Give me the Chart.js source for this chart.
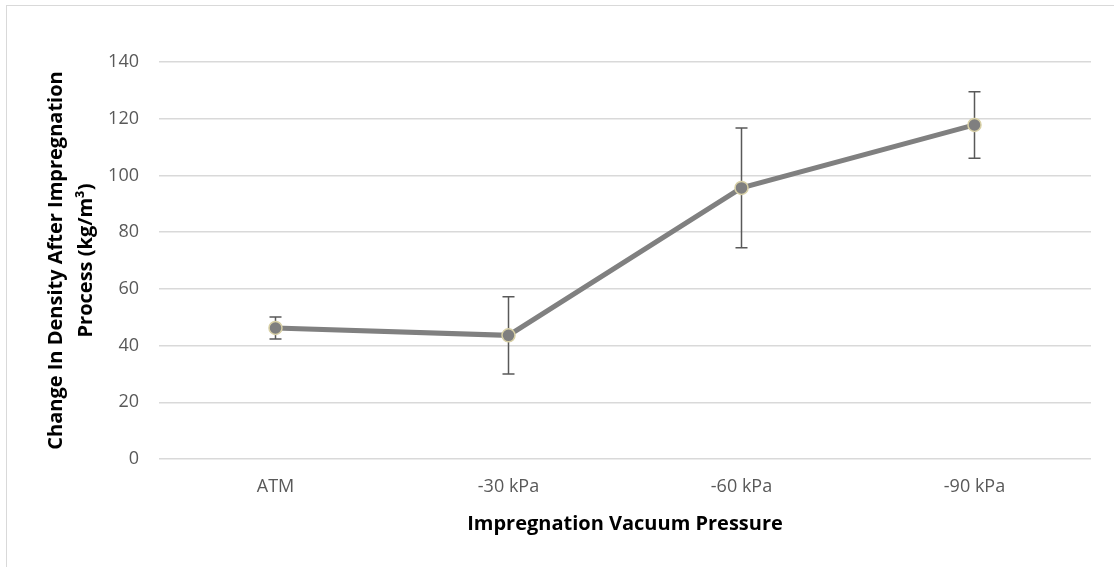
<!DOCTYPE html>
<html>
<head>
<meta charset="utf-8">
<script src="https://cdn.jsdelivr.net/npm/chart.js@4"></script>
<style>
  html, body { margin: 0; padding: 0; background: #fff; overflow: hidden; }
  #wrap { position: relative; width: 1114px; height: 567px; }
  #frame { position: absolute; left: 6px; top: 5px; width: 1200px; height: 700px; border: 1px solid #d9d9d9; pointer-events: none; }
</style>
</head>
<body>
<div id="wrap">
  <canvas id="densityChart" width="1114" height="567"></canvas>
  <div id="frame"></div>
</div>
<script>
// Данные
const categories = ['ATM', '-30 kPa', '-60 kPa', '-90 kPa'];
const densityChange = [46.2, 43.6, 95.6, 117.8];
const errorBars = [3.9, 13.6, 21.1, 11.7];
const yTicks = [0, 20, 40, 60, 80, 100, 120, 140];

// Планки погрешностей рисуем до линии, чтобы маркеры были сверху
const errorBarPlugin = {
    id: 'errorBars',
    beforeDatasetsDraw(chart) {
        const ctx = chart.ctx;
        const x = chart.scales.x;
        const y = chart.scales.y;
        ctx.save();
        ctx.strokeStyle = '#595959';
        ctx.lineWidth = 1.5;
        densityChange.forEach((v, i) => {
            const px = x.getPixelForValue(i);
            const top = y.getPixelForValue(v + errorBars[i]);
            const bot = y.getPixelForValue(v - errorBars[i]);
            ctx.beginPath();
            ctx.moveTo(px, top);
            ctx.lineTo(px, bot);
            ctx.moveTo(px - 6, top);
            ctx.lineTo(px + 6, top);
            ctx.moveTo(px - 6, bot);
            ctx.lineTo(px + 6, bot);
            ctx.stroke();
        });
        ctx.restore();
    }
};

const ctx = document.getElementById('densityChart').getContext('2d');
new Chart(ctx, {
    type: 'line',
    data: {
        labels: categories,
        datasets: [{
            data: densityChange,
            borderColor: '#808080',
            borderWidth: 5,
            pointBackgroundColor: '#7f7f7f',
            pointBorderColor: '#d8d0a6',
            pointBorderWidth: 1.5,
            pointRadius: 6.5,
            tension: 0
        }]
    },
    options: {
        responsive: false,
        animation: false,
        layout: { padding: { top: 62, right: 23, left: 0, bottom: 0 } },
        plugins: {
            legend: { display: false },
            tooltip: { enabled: false }
        },
        scales: {
            x: {
                offset: true,
                grid: { display: false, drawTicks: false },
                border: { display: false },
                ticks: {
                    color: '#595959',
                    padding: 17,
                    font: { family: 'Open Sans', size: 18 }
                },
                title: {
                    display: true,
                    text: 'Impregnation Vacuum Pressure',
                    color: '#000',
                    font: { family: 'Open Sans', size: 20, weight: 'bold' },
                    padding: { top: 0, bottom: 31 }
                },
                afterFit(scale) { scale.height = 108; }
            },
            y: {
                min: 0,
                max: 140,
                afterBuildTicks(scale) {
                    scale.ticks = yTicks.map(v => ({ value: v }));
                },
                grid: { color: '#d9d9d9', lineWidth: 1.5, drawTicks: false },
                border: { display: false },
                ticks: {
                    color: '#595959',
                    padding: 20,
                    font: { family: 'Open Sans', size: 18 }
                },
                title: {
                    display: true,
                    text: ['Change In Density After Impregnation', 'Process (kg/m\u00b3)'],
                    color: '#000',
                    font: { family: 'Open Sans', size: 20, weight: 'bold', lineHeight: 1.5 },
                    padding: { top: 41, bottom: 0 }
                },
                afterFit(scale) { scale.width = 159; }
            }
        }
    },
    plugins: [errorBarPlugin]
});
</script>
</body>
</html>
